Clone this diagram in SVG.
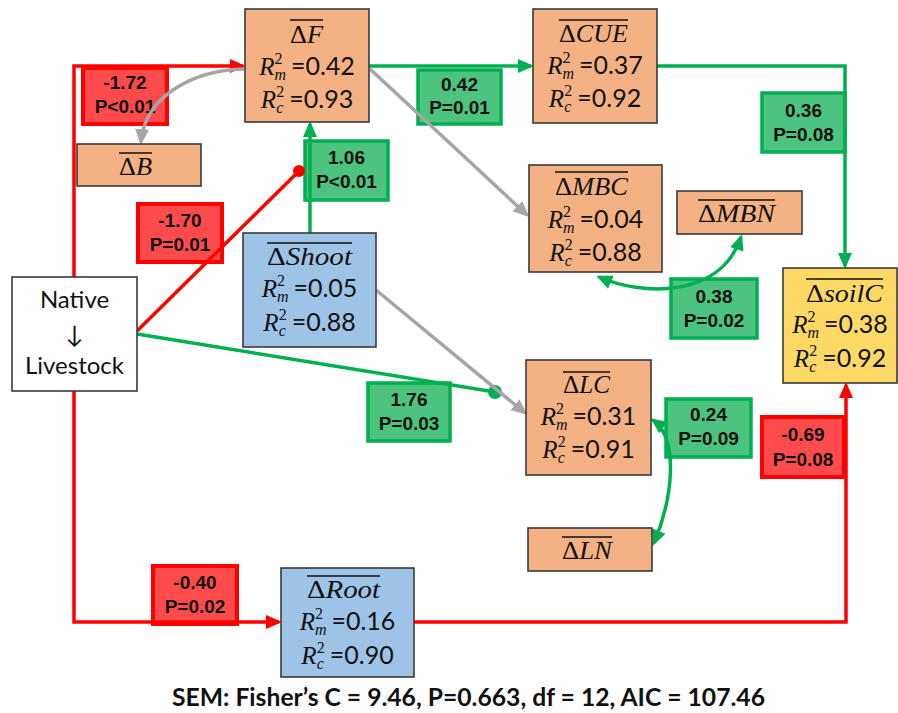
<svg xmlns="http://www.w3.org/2000/svg" width="898" height="713" viewBox="0 0 898 713">
<defs>
<style>
.nd{stroke:#3a3a3a;stroke-width:1.6}
.or{fill:#F4B183}.bl{fill:#9DC3E6}.ye{fill:#FFD966}.wh{fill:#ffffff}
.ttl{font-family:"Liberation Serif",serif;font-size:25px;fill:#111}
.it{font-style:italic}
.ov{stroke:#111;stroke-width:1.4}
.rv{font-family:"Liberation Serif",serif;font-size:25px;fill:#111}
.sc{font-size:16px}
.num{font-family:Lato,"Liberation Sans",sans-serif;font-style:normal}
.nat{font-family:Lato,"Liberation Sans",sans-serif;font-size:24px;fill:#111}
.lr{fill:#FF4B4B;stroke:#FF0000;stroke-width:4}
.lg{fill:#4CC47F;stroke:#00B050;stroke-width:3.5}
.lt{font-family:"Liberation Sans",Arial,sans-serif;font-weight:bold;font-size:19px;fill:#111;text-anchor:middle}
.cr{fill:none;stroke:#FF0000;stroke-width:3.5}
.cg{fill:none;stroke:#00B050;stroke-width:3.5}
.cy{fill:none;stroke:#A6A6A6;stroke-width:3.5}
.ft{font-family:Lato,"Open Sans",sans-serif;font-weight:bold;font-size:25px;fill:#111}
</style>
<marker id="ar" markerUnits="userSpaceOnUse" viewBox="0 0 16 16" markerWidth="16" markerHeight="16" refX="13" refY="8" orient="auto-start-reverse"><path d="M0,1 L16,8 L0,15 z" fill="#FF0000"/></marker>
<marker id="ag" markerUnits="userSpaceOnUse" viewBox="0 0 16 16" markerWidth="16" markerHeight="16" refX="13" refY="8" orient="auto-start-reverse"><path d="M0,1 L16,8 L0,15 z" fill="#00B050"/></marker>
<marker id="ay" markerUnits="userSpaceOnUse" viewBox="0 0 16 16" markerWidth="16" markerHeight="16" refX="13" refY="8" orient="auto-start-reverse"><path d="M0,1 L16,8 L0,15 z" fill="#A6A6A6"/></marker>
</defs>
<rect width="898" height="713" fill="#ffffff"/>

<g id="labels">
<g id="lab-f-b"><rect class="lr" x="83" y="68" width="84" height="56"/><text class="lt" x="125" y="89">-1.72</text><text class="lt" x="125" y="113">P&lt;0.01</text></g>
<g id="lab-f-cue"><rect class="lg" x="418" y="70" width="83" height="54"/><text class="lt" x="459.5" y="91">0.42</text><text class="lt" x="459.5" y="114">P=0.01</text></g>
<g id="lab-shoot-f"><rect class="lg" x="305" y="141" width="83" height="59"/><text class="lt" x="346.5" y="164">1.06</text><text class="lt" x="346.5" y="188">P&lt;0.01</text></g>
<g id="lab-nat-f"><rect class="lr" x="138" y="204" width="84" height="58"/><text class="lt" x="180" y="227">-1.70</text><text class="lt" x="180" y="251">P=0.01</text></g>
<g id="lab-cue-soil"><rect class="lg" x="762" y="93" width="83" height="59"/><text class="lt" x="803.5" y="117">0.36</text><text class="lt" x="803.5" y="141">P=0.08</text></g>
<g id="lab-mbc-mbn"><rect class="lg" x="671" y="279" width="86" height="59"/><text class="lt" x="714" y="303">0.38</text><text class="lt" x="714" y="327">P=0.02</text></g>
<g id="lab-nat-lc"><rect class="lg" x="368" y="383" width="82" height="58"/><text class="lt" x="409" y="406">1.76</text><text class="lt" x="409" y="430">P=0.03</text></g>
<g id="lab-lc-ln"><rect class="lg" x="666" y="399" width="85" height="58"/><text class="lt" x="708.5" y="421">0.24</text><text class="lt" x="708.5" y="445">P=0.09</text></g>
<g id="lab-root-soil"><rect class="lr" x="762" y="417" width="82" height="60"/><text class="lt" x="803" y="441">-0.69</text><text class="lt" x="803" y="466">P=0.08</text></g>
<g id="lab-nat-root"><rect class="lr" x="153" y="566" width="84" height="58"/><text class="lt" x="195" y="589">-0.40</text><text class="lt" x="195" y="613">P=0.02</text></g>
</g>

<g id="connectors">
<path class="cr" d="M74,277 V66 H243" marker-end="url(#ar)"/>
<path class="cr" d="M74,391 V622 H279" marker-end="url(#ar)"/>
<path class="cr" d="M137,331 L299,171"/>
<circle cx="299" cy="171" r="6" fill="#FF0000"/>
<path class="cg" d="M137,334 L495,392"/>
<circle cx="495" cy="392" r="7" fill="#00B050"/>
<path class="cg" d="M310,233 V124" marker-end="url(#ag)"/>
<path class="cg" d="M369,66 H531" marker-end="url(#ag)"/>
<path class="cg" d="M657,66 H845 V266" marker-end="url(#ag)"/>
<path class="cr" d="M414,622 H846 V385" marker-end="url(#ar)"/>
<path class="cy" d="M370,69 L527,215" marker-end="url(#ay)"/>
<path class="cy" d="M244,69 C195,70 145,95 141,142" marker-end="url(#ay)"/>
<path class="cy" d="M376,290 L525,413" marker-end="url(#ay)"/>
<path class="cg" d="M599,277 C640,295 720,300 741,237" marker-start="url(#ag)" marker-end="url(#ag)"/>
<path class="cg" d="M653,420 C680,440 672,500 654,543" marker-start="url(#ag)" marker-end="url(#ag)"/>
</g>

<g id="native">
<rect class="nd wh" x="12" y="277" width="125" height="114"/>
<text class="nat" x="74.5" y="308" text-anchor="middle">Native</text>
<text class="nat" x="74.5" y="343" text-anchor="middle">↓</text>
<text class="nat" x="74.5" y="374" text-anchor="middle">Livestock</text>
</g>

<g id="dF">
<rect class="nd or" x="245" y="9" width="124" height="113"/>
<text class="ttl" x="290" y="43" textLength="33" lengthAdjust="spacingAndGlyphs">Δ<tspan class="it">F</tspan></text>
<line class="ov" x1="290" y1="20" x2="323" y2="20"/>
<text class="rv" x="307" y="75" text-anchor="middle"><tspan class="it">R</tspan><tspan class="sc" dy="-11">2</tspan><tspan class="sc it" dx="-8" dy="16">m</tspan><tspan class="num" dx="5" dy="-5">=0.42</tspan></text>
<text class="rv" x="307" y="108" text-anchor="middle"><tspan class="it">R</tspan><tspan class="sc" dy="-11">2</tspan><tspan class="sc it" dx="-8" dy="16">c</tspan><tspan class="num" dx="6" dy="-5">=0.93</tspan></text>
</g>

<g id="dB">
<rect class="nd or" x="77" y="144" width="124" height="42"/>
<text class="ttl" x="119" y="175" textLength="33" lengthAdjust="spacingAndGlyphs">Δ<tspan class="it">B</tspan></text>
<line class="ov" x1="119" y1="153" x2="152" y2="153"/>
</g>

<g id="dCUE">
<rect class="nd or" x="533" y="9" width="124" height="114"/>
<text class="ttl" x="559" y="42" textLength="69" lengthAdjust="spacingAndGlyphs">Δ<tspan class="it">CUE</tspan></text>
<line class="ov" x1="559" y1="20" x2="628" y2="20"/>
<text class="rv" x="595" y="74" text-anchor="middle"><tspan class="it">R</tspan><tspan class="sc" dy="-11">2</tspan><tspan class="sc it" dx="-8" dy="16">m</tspan><tspan class="num" dx="5" dy="-5">=0.37</tspan></text>
<text class="rv" x="595" y="107" text-anchor="middle"><tspan class="it">R</tspan><tspan class="sc" dy="-11">2</tspan><tspan class="sc it" dx="-8" dy="16">c</tspan><tspan class="num" dx="6" dy="-5">=0.92</tspan></text>
</g>

<g id="dMBC">
<rect class="nd or" x="529" y="165" width="133" height="107"/>
<text class="ttl" x="555" y="195" textLength="73" lengthAdjust="spacingAndGlyphs">Δ<tspan class="it">MBC</tspan></text>
<line class="ov" x1="555" y1="172" x2="628" y2="172"/>
<text class="rv" x="595.5" y="228" text-anchor="middle"><tspan class="it">R</tspan><tspan class="sc" dy="-11">2</tspan><tspan class="sc it" dx="-8" dy="16">m</tspan><tspan class="num" dx="5" dy="-5">=0.04</tspan></text>
<text class="rv" x="595.5" y="261" text-anchor="middle"><tspan class="it">R</tspan><tspan class="sc" dy="-11">2</tspan><tspan class="sc it" dx="-8" dy="16">c</tspan><tspan class="num" dx="6" dy="-5">=0.88</tspan></text>
</g>

<g id="dMBN">
<rect class="nd or" x="677" y="191" width="125" height="43"/>
<text class="ttl" x="698" y="222" textLength="77" lengthAdjust="spacingAndGlyphs">Δ<tspan class="it">MBN</tspan></text>
<line class="ov" x1="698" y1="200" x2="775" y2="200"/>
</g>

<g id="dShoot">
<rect class="nd bl" x="243" y="233" width="133" height="114"/>
<text class="ttl" x="267" y="265" textLength="85" lengthAdjust="spacingAndGlyphs">Δ<tspan class="it">Shoot</tspan></text>
<line class="ov" x1="267" y1="243" x2="352" y2="243"/>
<text class="rv" x="309.5" y="297" text-anchor="middle"><tspan class="it">R</tspan><tspan class="sc" dy="-11">2</tspan><tspan class="sc it" dx="-8" dy="16">m</tspan><tspan class="num" dx="5" dy="-5">=0.05</tspan></text>
<text class="rv" x="309.5" y="331" text-anchor="middle"><tspan class="it">R</tspan><tspan class="sc" dy="-11">2</tspan><tspan class="sc it" dx="-8" dy="16">c</tspan><tspan class="num" dx="6" dy="-5">=0.88</tspan></text>
</g>

<g id="dsoilC">
<rect class="nd ye" x="783" y="268" width="114" height="115"/>
<text class="ttl" x="806" y="302" textLength="77" lengthAdjust="spacingAndGlyphs">Δ<tspan class="it">soilC</tspan></text>
<line class="ov" x1="806" y1="279" x2="883" y2="279"/>
<text class="rv" x="840" y="333" text-anchor="middle"><tspan class="it">R</tspan><tspan class="sc" dy="-11">2</tspan><tspan class="sc it" dx="-8" dy="16">m</tspan><tspan class="num" dx="5" dy="-5">=0.38</tspan></text>
<text class="rv" x="840" y="367" text-anchor="middle"><tspan class="it">R</tspan><tspan class="sc" dy="-11">2</tspan><tspan class="sc it" dx="-8" dy="16">c</tspan><tspan class="num" dx="6" dy="-5">=0.92</tspan></text>
</g>

<g id="dLC">
<rect class="nd or" x="526" y="360" width="125" height="115"/>
<text class="ttl" x="563" y="393" textLength="47" lengthAdjust="spacingAndGlyphs">Δ<tspan class="it">LC</tspan></text>
<line class="ov" x1="563" y1="372" x2="610" y2="372"/>
<text class="rv" x="588.5" y="425" text-anchor="middle"><tspan class="it">R</tspan><tspan class="sc" dy="-11">2</tspan><tspan class="sc it" dx="-8" dy="16">m</tspan><tspan class="num" dx="5" dy="-5">=0.31</tspan></text>
<text class="rv" x="588.5" y="458" text-anchor="middle"><tspan class="it">R</tspan><tspan class="sc" dy="-11">2</tspan><tspan class="sc it" dx="-8" dy="16">c</tspan><tspan class="num" dx="6" dy="-5">=0.91</tspan></text>
</g>

<g id="dLN">
<rect class="nd or" x="528" y="528" width="124" height="43"/>
<text class="ttl" x="562" y="559" textLength="50" lengthAdjust="spacingAndGlyphs">Δ<tspan class="it">LN</tspan></text>
<line class="ov" x1="562" y1="537" x2="612" y2="537"/>
</g>

<g id="dRoot">
<rect class="nd bl" x="281" y="568" width="133" height="109"/>
<text class="ttl" x="307" y="598" textLength="73" lengthAdjust="spacingAndGlyphs">Δ<tspan class="it">Root</tspan></text>
<line class="ov" x1="307" y1="576" x2="380" y2="576"/>
<text class="rv" x="347.5" y="630" text-anchor="middle"><tspan class="it">R</tspan><tspan class="sc" dy="-11">2</tspan><tspan class="sc it" dx="-8" dy="16">m</tspan><tspan class="num" dx="5" dy="-5">=0.16</tspan></text>
<text class="rv" x="347.5" y="664" text-anchor="middle"><tspan class="it">R</tspan><tspan class="sc" dy="-11">2</tspan><tspan class="sc it" dx="-8" dy="16">c</tspan><tspan class="num" dx="6" dy="-5">=0.90</tspan></text>
</g>

<text class="ft" x="172" y="706" textLength="593" lengthAdjust="spacingAndGlyphs">SEM: Fisher’s C = 9.46, P=0.663, df = 12, AIC = 107.46</text>
</svg>
